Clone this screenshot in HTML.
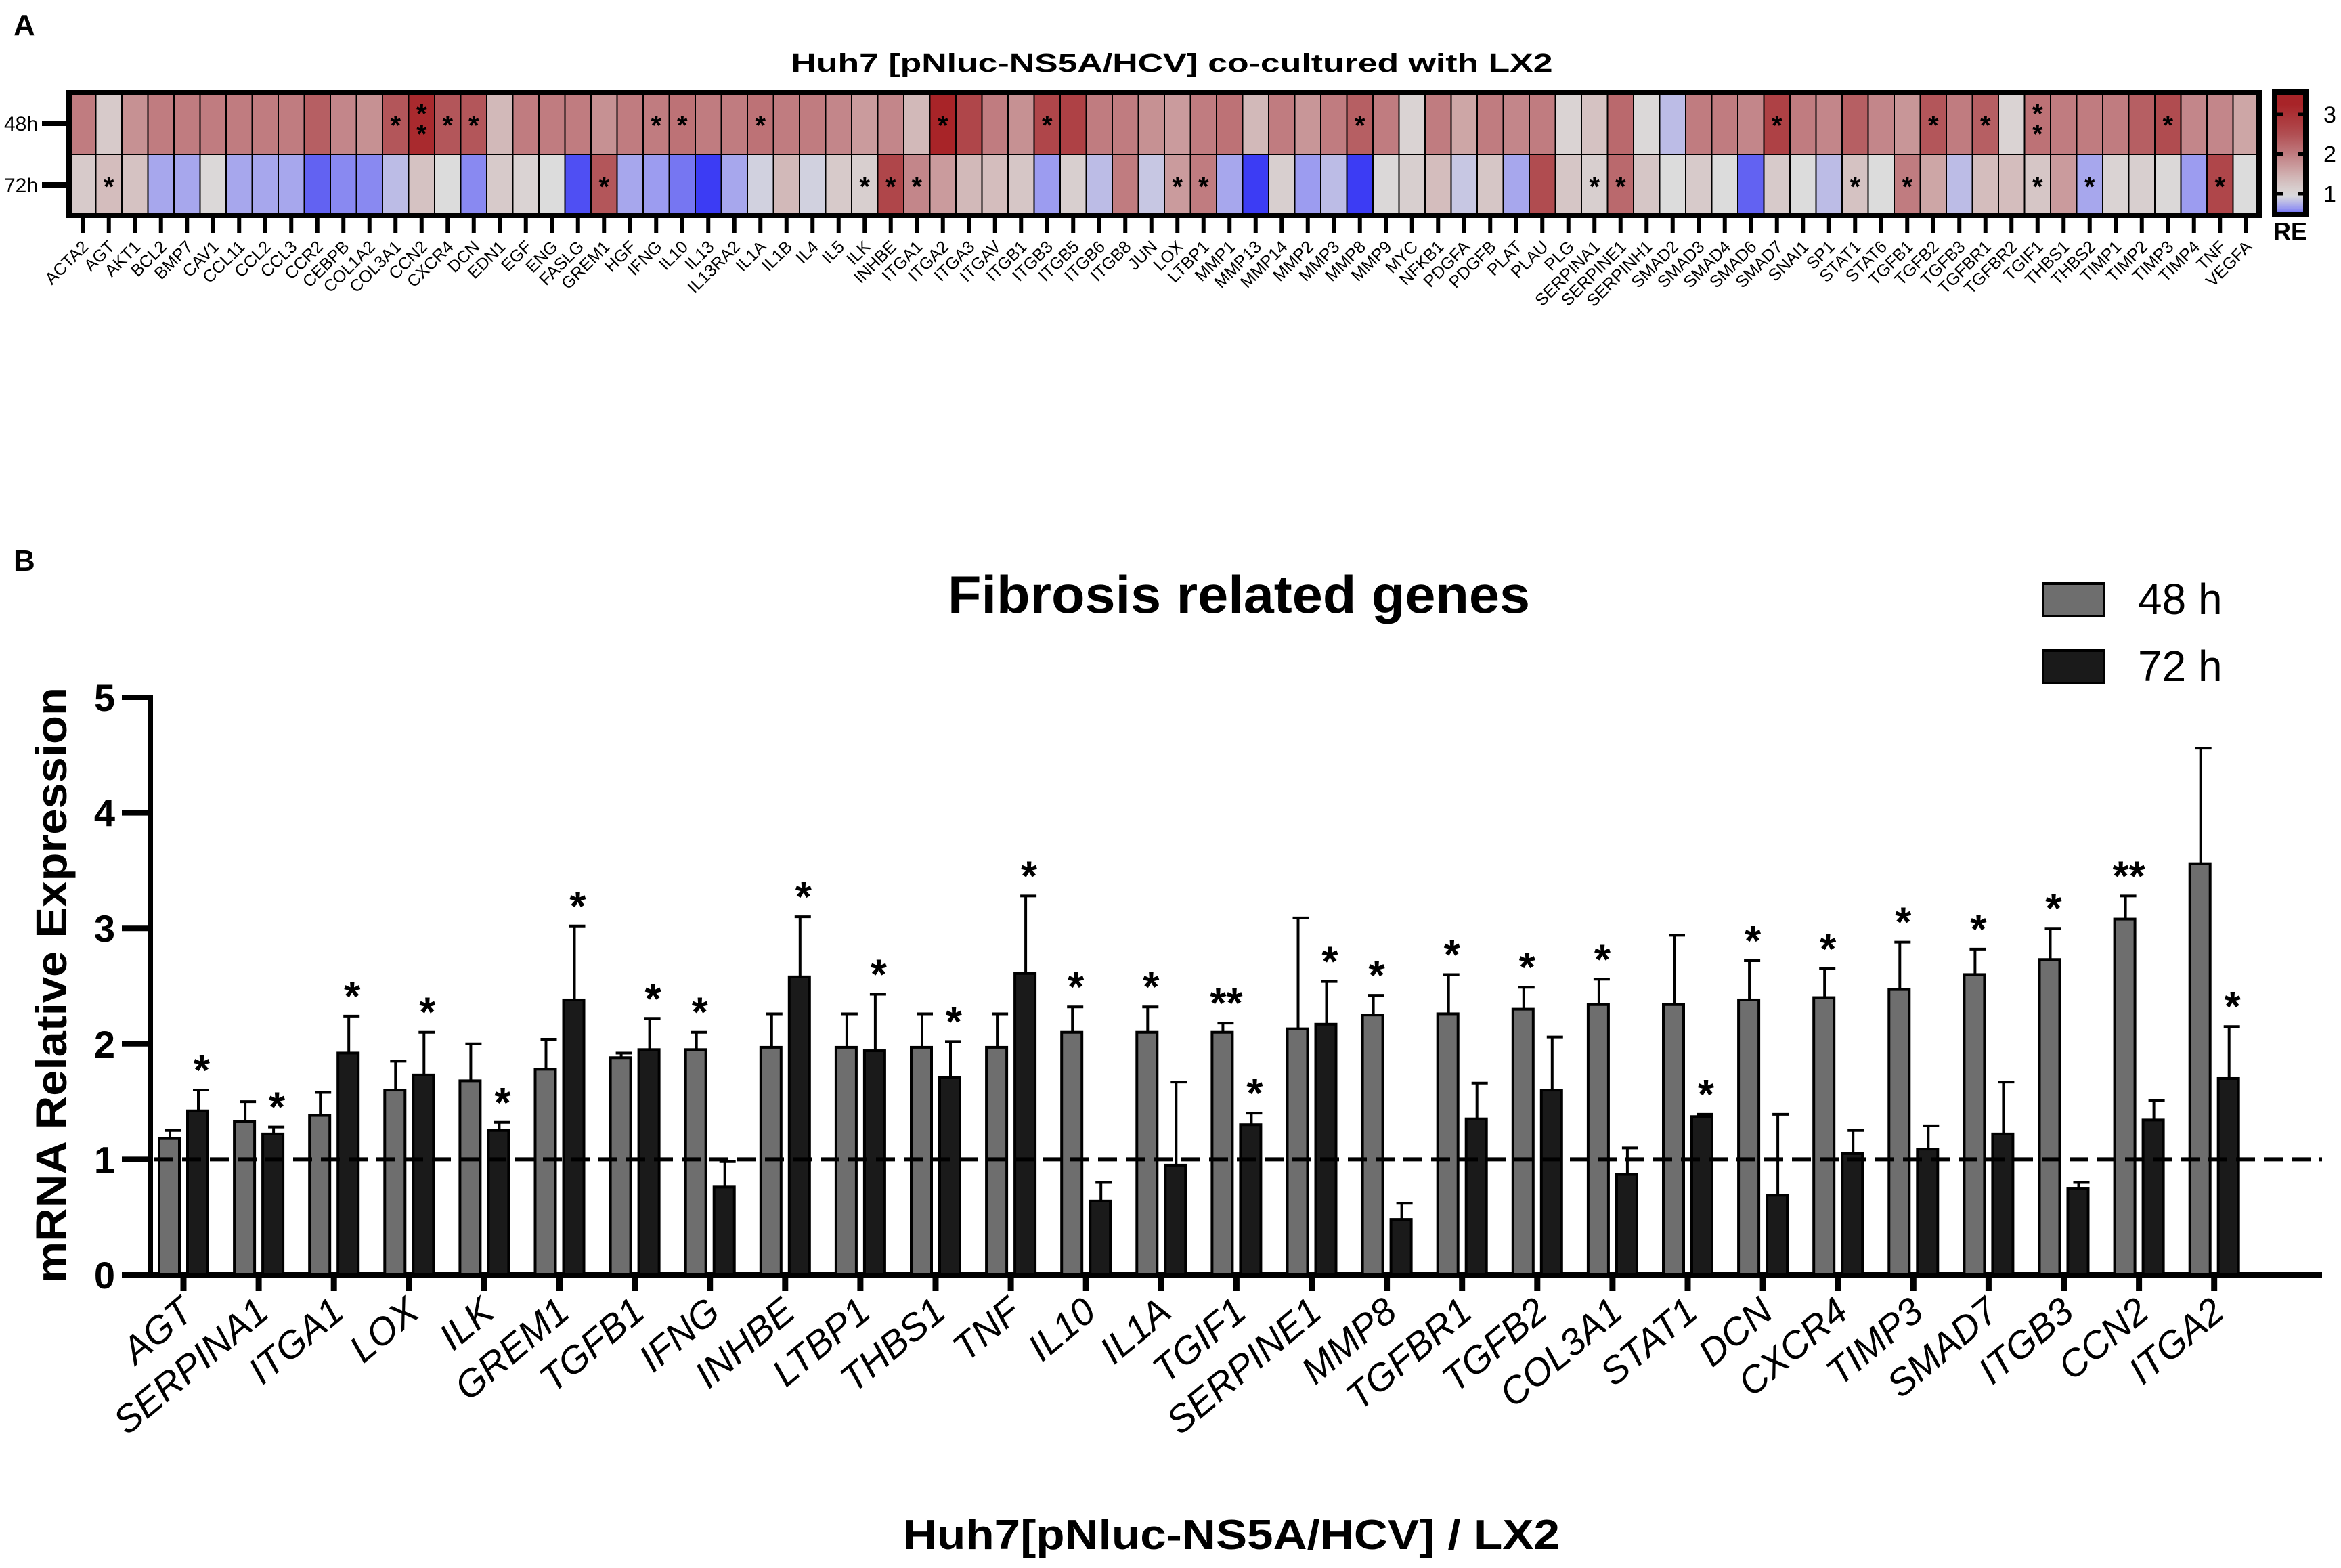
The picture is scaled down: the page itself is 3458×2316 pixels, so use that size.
<!DOCTYPE html>
<html><head><meta charset="utf-8">
<style>
html,body{margin:0;padding:0;background:#fff;}
svg{display:block;font-family:"Liberation Sans",Arial,sans-serif;}
</style></head>
<body>
<svg id="fig" xmlns="http://www.w3.org/2000/svg" width="3458" height="2316" viewBox="0 0 3458 2316">
<rect x="0" y="0" width="3458" height="2316" fill="#fff"/>
<defs>
<linearGradient id="cbar" x1="0" y1="0" x2="0" y2="1"></linearGradient>
</defs>
<text x="20" y="52" font-size="44" font-weight="bold">A</text>
<text x="1731" y="106" font-size="38" font-weight="bold" text-anchor="middle" textLength="1125" lengthAdjust="spacingAndGlyphs">Huh7 [pNluc-NS5A/HCV]  co-cultured with LX2</text>
<g id="heat"></g>
<g id="cb"></g>
<text x="20" y="843" font-size="44" font-weight="bold">B</text>
<text x="1830" y="905" font-size="78" font-weight="bold" text-anchor="middle" textLength="860" lengthAdjust="spacingAndGlyphs">Fibrosis related genes</text>
<g>
<rect x="3018" y="862" width="90" height="48" fill="#6e6e6e" stroke="#000" stroke-width="4"/>
<text x="3158" y="907" font-size="64">48 h</text>
<rect x="3018" y="961" width="90" height="48" fill="#1a1a1a" stroke="#000" stroke-width="4"/>
<text x="3158" y="1006" font-size="64">72 h</text>
</g>
<text transform="translate(98,1455) rotate(-90)" font-size="64" font-weight="bold" text-anchor="middle" textLength="880" lengthAdjust="spacingAndGlyphs">mRNA Relative Expression</text>
<text x="1819" y="2288" font-size="62" font-weight="bold" text-anchor="middle" textLength="970" lengthAdjust="spacingAndGlyphs">Huh7[pNluc-NS5A/HCV] / LX2</text>
<g id="bars"></g>
</svg>
<script>
// ---------- Heatmap data ----------
const heatGenes = ["ACTA2","AGT","AKT1","BCL2","BMP7","CAV1","CCL11","CCL2","CCL3","CCR2","CEBPB","COL1A2","COL3A1","CCN2","CXCR4","DCN","EDN1","EGF","ENG","FASLG","GREM1","HGF","IFNG","IL10","IL13","IL13RA2","IL1A","IL1B","IL4","IL5","ILK","INHBE","ITGA1","ITGA2","ITGA3","ITGAV","ITGB1","ITGB3","ITGB5","ITGB6","ITGB8","JUN","LOX","LTBP1","MMP1","MMP13","MMP14","MMP2","MMP3","MMP8","MMP9","MYC","NFKB1","PDGFA","PDGFB","PLAT","PLAU","PLG","SERPINA1","SERPINE1","SERPINH1","SMAD2","SMAD3","SMAD4","SMAD6","SMAD7","SNAI1","SP1","STAT1","STAT6","TGFB1","TGFB2","TGFB3","TGFBR1","TGFBR2","TGIF1","THBS1","THBS2","TIMP1","TIMP2","TIMP3","TIMP4","TNF","VEGFA"];
const heat48 = [2.0,1.2,1.8,2.0,2.0,2.0,2.0,2.0,2.0,2.3,1.9,1.8,2.4,3.1,2.4,2.4,1.4,2.0,2.0,2.0,1.8,2.0,2.0,2.1,2.0,2.0,2.1,2.0,2.0,1.9,1.7,1.9,1.4,3.2,2.6,2.0,1.8,2.6,2.7,2.0,2.0,1.8,1.7,2.0,2.1,1.4,2.0,1.75,2.0,2.3,2.0,1.1,2.0,1.6,2.0,1.9,2.0,1.1,1.3,2.2,1.05,0.85,2.0,2.0,1.9,2.7,2.0,1.9,2.3,1.9,1.75,2.4,2.0,2.3,1.1,2.1,2.0,2.0,2.0,2.3,2.5,1.9,1.9,1.6];
const heat72 = [1.2,1.35,1.3,0.75,0.75,1.05,0.75,0.75,0.75,0.55,0.65,0.65,0.85,1.3,1.0,0.65,1.2,1.1,1.0,0.5,2.4,0.75,0.7,0.6,0.45,0.75,0.95,1.4,0.95,1.2,1.15,2.6,1.9,1.7,1.4,1.35,1.25,0.7,1.15,0.85,2.0,0.9,1.7,2.0,0.75,0.45,1.15,0.7,0.85,0.45,1.05,1.15,1.35,0.9,1.25,0.75,2.5,1.25,1.15,2.2,1.25,1.0,1.2,1.0,0.55,1.2,1.0,0.85,1.3,1.0,2.0,1.6,0.85,1.35,1.35,1.25,1.7,0.75,1.1,1.15,1.05,0.7,2.6,1.0];
const stars48 = {13:1,14:2,15:1,16:1,23:1,24:1,27:1,34:1,38:1,50:1,66:1,72:1,74:1,76:2,81:1};
const stars72 = {2:1,21:1,31:1,32:1,33:1,43:1,44:1,59:1,60:1,69:1,71:1,76:1,78:1,83:1};
const scaleTicks = [1,2,3];

// ---------- Bar chart data ----------
const barGenes = ["AGT","SERPINA1","ITGA1","LOX","ILK","GREM1","TGFB1","IFNG","INHBE","LTBP1","THBS1","TNF","IL10","IL1A","TGIF1","SERPINE1","MMP8","TGFBR1","TGFB2","COL3A1","STAT1","DCN","CXCR4","TIMP3","SMAD7","ITGB3","CCN2","ITGA2"];
const val48 = [1.18,1.33,1.38,1.6,1.68,1.78,1.88,1.95,1.97,1.97,1.97,1.97,2.1,2.1,2.1,2.13,2.25,2.26,2.3,2.34,2.34,2.38,2.4,2.47,2.6,2.73,3.08,3.56];
const err48 = [1.25,1.5,1.58,1.85,2.0,2.04,1.92,2.1,2.26,2.26,2.26,2.26,2.32,2.32,2.18,3.09,2.42,2.6,2.49,2.56,2.94,2.72,2.65,2.88,2.82,3.0,3.28,4.56];
const val72 = [1.42,1.22,1.92,1.73,1.25,2.38,1.95,0.76,2.58,1.94,1.71,2.61,0.64,0.95,1.3,2.17,0.48,1.35,1.6,0.87,1.37,0.69,1.05,1.09,1.22,0.75,1.34,1.7];
const err72 = [1.6,1.28,2.24,2.1,1.32,3.02,2.22,0.98,3.1,2.43,2.02,3.28,0.8,1.67,1.4,2.54,0.62,1.66,2.06,1.1,1.39,1.39,1.25,1.29,1.67,0.8,1.51,2.15];
const sig48 = ["","","","","","","","*","","","","","*","*","**","","*","*","*","*","","*","*","*","*","*","**",""];
const sig72 = ["*","*","*","*","*","*","*","","*","*","*","*","","","*","*","","","","","*","","","","","","","*"];
const yTicks = [0,1,2,3,4,5];

const NS = "http://www.w3.org/2000/svg";
function mk(tag, attrs, parent){const e=document.createElementNS(NS,tag);for(const k in attrs)e.setAttribute(k,attrs[k]);parent.appendChild(e);return e;}

// colormap
const stops = [[0.45,[60,60,244]],[0.7,[156,156,240]],[1.0,[220,220,220]],[1.5,[208,176,176]],[2.0,[192,124,128]],[2.5,[176,76,80]],[3.2,[168,36,40]]];
function cmap(v){
  if(v<=stops[0][0]) return rgb(stops[0][1]);
  for(let i=1;i<stops.length;i++){
    if(v<=stops[i][0]){const a=stops[i-1],b=stops[i];const t=(v-a[0])/(b[0]-a[0]);
      return rgb(a[1].map((c,j)=>Math.round(c+(b[1][j]-c)*t)));}
  }
  return rgb(stops[stops.length-1][1]);
}
function rgb(a){return "rgb("+a.join(",")+")";}

// ---------- Heatmap ----------
const heat = document.getElementById("heat");
const hx0=103, hx1=3337, cw=(hx1-hx0)/heatGenes.length;
const rowY=[137,228], rowH=[91,90];
function hx(i){return hx0+i*cw;}
[heat48,heat72].forEach((row,r)=>{
  row.forEach((v,i)=>{
    const c=mk("rect",{x:hx(i),y:rowY[r],width:cw,height:rowH[r],fill:cmap(v),stroke:"#000","stroke-width":2},heat);
    
    
  });
});
[[stars48,0],[stars72,1]].forEach(([st,r])=>{
  for(const k in st){
    const i=+k-1, n=st[k];
    const cy=rowY[r]+rowH[r]/2;
    for(let s=0;s<n;s++){
      const yy = n===1? cy+16 : cy+2+(s-0.5)*30+12;
      const t=mk("text",{x:hx(i)+cw/2,y:yy,"font-size":40,"font-weight":"bold","text-anchor":"middle"},heat);
      t.textContent="*";
      
      
    }
  }
});
const frame=mk("rect",{x:102,y:137,width:3235,height:181,fill:"none",stroke:"#000","stroke-width":8},heat);


[["48h",182],["72h",273]].forEach(([lab,y])=>{
  const t=mk("text",{x:6,y:y+11,"font-size":30},heat);t.textContent=lab;
  
  
  const l=mk("line",{x1:62,x2:100,y1:y,y2:y,stroke:"#000","stroke-width":8},heat);
  
  
});
heatGenes.forEach((g,i)=>{
  const cx=hx(i)+cw/2;
  const l=mk("line",{x1:cx,x2:cx,y1:318,y2:344,stroke:"#000","stroke-width":6},heat);
  
  
  const t=mk("text",{x:cx+10,y:366,"font-size":25,"text-anchor":"end",transform:"rotate(-45 "+(cx+10)+" 366)"},heat);
  t.textContent=g;
  
  
});

// ---------- Color scale ----------
const cb=document.getElementById("cb");
const grad=document.getElementById("cbar");
const cbTop=140, cbBot=313;
function cbY(v){return 286-(v-1)*58.5;}
function cbV(y){return 1+(286-y)/58.5;}
for(let k=0;k<=20;k++){
  const y=cbTop+(cbBot-cbTop)*k/20;
  mk("stop",{offset:(k*5)+"%","stop-color":cmap(cbV(y))},grad);
}
const cbr=mk("rect",{x:3360,y:136,width:46,height:181,fill:"url(#cbar)",stroke:"#000","stroke-width":8},cb);


scaleTicks.forEach(v=>{
  const y=cbY(v);
  const a=mk("line",{x1:3362,x2:3372,y1:y,y2:y,stroke:"#000","stroke-width":5},cb);
  
  
  const b=mk("line",{x1:3394,x2:3404,y1:y,y2:y,stroke:"#000","stroke-width":5},cb);
  
  
  const t=mk("text",{x:3432,y:y+12,"font-size":34},cb);t.textContent=v;
  
  
});
const re=mk("text",{x:3383,y:354,"font-size":36,"font-weight":"bold","text-anchor":"middle"},cb);re.textContent="RE";



// ---------- Bar chart ----------
const bars=document.getElementById("bars");
const y0=1883, pxPerUnit=170.6, axX=222, gx0=271, gStep=111.1, bw=30;
function yS(v){return y0-v*pxPerUnit;}
function xG(i){return gx0+i*gStep;}
const ya=mk("line",{x1:axX,x2:axX,y1:1026,y2:y0+4,stroke:"#000","stroke-width":8},bars);


yTicks.forEach(v=>{
  const y=yS(v);
  const l=mk("line",{x1:180,x2:axX,y1:y,y2:y,stroke:"#000","stroke-width":8},bars);
  
  
  const t=mk("text",{x:170,y:y+20,"font-size":56,"font-weight":"bold","text-anchor":"end"},bars);t.textContent=v;
  
  
});
const xa=mk("line",{x1:axX-4,x2:3430,y1:y0,y2:y0,stroke:"#000","stroke-width":8},bars);


function errBar(cx,v,e,name){
  const l=mk("line",{x1:cx,x2:cx,y1:yS(v),y2:yS(e),stroke:"#000","stroke-width":4},bars);
  
  
  const c=mk("line",{x1:cx-8,x2:cx+16,y1:yS(e),y2:yS(e),stroke:"#000","stroke-width":4},bars);
  
  
}
function star(cx,e,s){
  if(!s) return;
  const t=mk("text",{x:cx+2,y:yS(e)-8,"font-size":62,"font-weight":"bold","text-anchor":"middle"},bars);
  t.textContent=s;
  
  
}
barGenes.forEach((g,i)=>{
  const c=xG(i);
  const gxc=c-21, bxc=c+21;
  const r1=mk("rect",{x:gxc-bw/2,y:yS(val48[i]),width:bw,height:y0-yS(val48[i]),fill:"#6e6e6e",stroke:"#000","stroke-width":4},bars);
  
  
  errBar(gxc+1,val48[i],err48[i],'error-bar-48h');
  star(gxc+4,err48[i],sig48[i]);
  const r2=mk("rect",{x:bxc-bw/2,y:yS(val72[i]),width:bw,height:y0-yS(val72[i]),fill:"#1a1a1a",stroke:"#000","stroke-width":4},bars);
  
  
  errBar(bxc+1,val72[i],err72[i],'error-bar-72h');
  star(bxc+4,err72[i],sig72[i]);
  const tk=mk("line",{x1:c,x2:c,y1:y0,y2:y0+24,stroke:"#000","stroke-width":9},bars);
  
  
  const tx=c+18, ty=y0+60;
  const t=mk("text",{x:tx,y:ty,"font-size":56,"font-style":"italic","text-anchor":"end",transform:"rotate(-40 "+tx+" "+ty+")"},bars);
  t.textContent=g;
  
  
});
const ref=mk("line",{x1:axX+6,x2:3430,y1:yS(1),y2:yS(1),stroke:"#000","stroke-width":6,"stroke-dasharray":"28 13"},bars);


</script>
</body></html>
